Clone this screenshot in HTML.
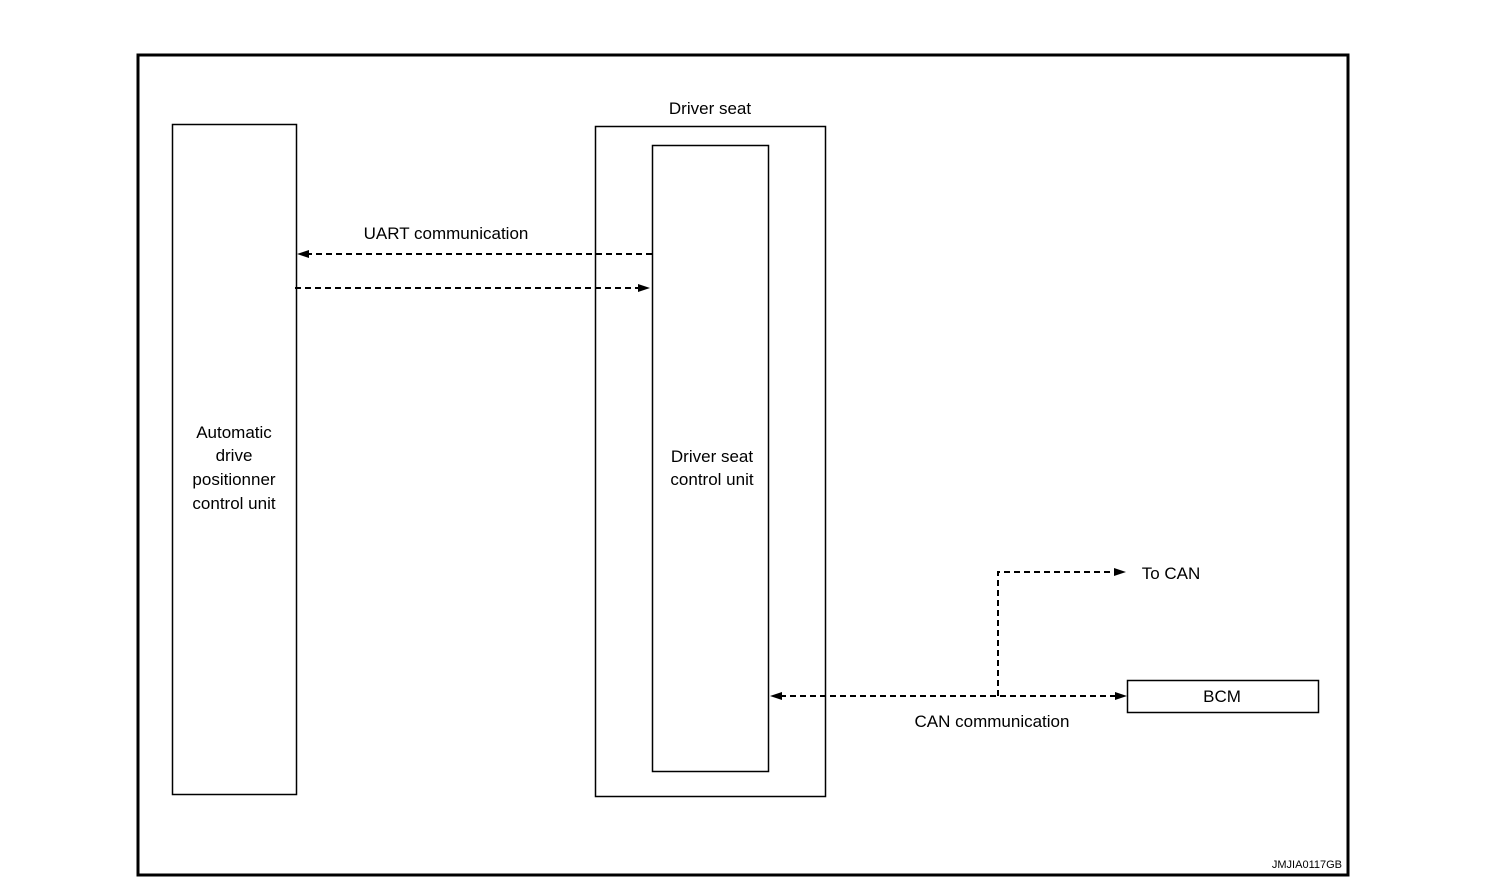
<!DOCTYPE html>
<html><head><meta charset="utf-8"><style>
html,body{margin:0;padding:0;background:#fff;}
svg{display:block;}
text{font-family:"Liberation Sans",Arial,sans-serif;fill:#000;}
</style></head><body>
<svg width="1504" height="886" viewBox="0 0 1504 886" xmlns="http://www.w3.org/2000/svg">
<rect x="0" y="0" width="1504" height="886" fill="#fff"/>
<rect x="138" y="55" width="1210" height="820" fill="none" stroke="#000" stroke-width="3"/>
<rect x="172.5" y="124.5" width="124" height="670" fill="none" stroke="#000" stroke-width="1.5"/>
<rect x="595.5" y="126.5" width="230" height="670" fill="none" stroke="#000" stroke-width="1.5"/>
<rect x="652.5" y="145.5" width="116" height="626" fill="none" stroke="#000" stroke-width="1.5"/>
<rect x="1127.5" y="680.5" width="191" height="32" fill="none" stroke="#000" stroke-width="1.5"/>
<g stroke="#000" stroke-width="2" stroke-dasharray="6,4" fill="none">
<line x1="652" y1="254" x2="306" y2="254"/>
<line x1="295" y1="288" x2="640" y2="288"/>
<line x1="780" y1="696" x2="1115" y2="696"/>
<polyline points="998,696 998,572 1115,572"/>
</g>
<g fill="#000">
<polygon points="297,254 309,250 309,258"/>
<polygon points="650,288 638,284 638,292"/>
<polygon points="770,696 782,692 782,700"/>
<polygon points="1127,696 1115,692 1115,700"/>
<polygon points="1126,572 1114,568 1114,576"/>
</g>
<g font-size="17" text-anchor="middle">
<text x="710" y="114">Driver seat</text>
<text x="446" y="239">UART communication</text>
<text x="234" y="438">Automatic</text>
<text x="234" y="461">drive</text>
<text x="234" y="485">positionner</text>
<text x="234" y="509">control unit</text>
<text x="712" y="462">Driver seat</text>
<text x="712" y="485">control unit</text>
<text x="1171" y="579">To CAN</text>
<text x="992" y="727">CAN communication</text>
<text x="1222" y="702">BCM</text>
</g>
<text x="1342" y="868" font-size="11" text-anchor="end">JMJIA0117GB</text>
</svg>
</body></html>
